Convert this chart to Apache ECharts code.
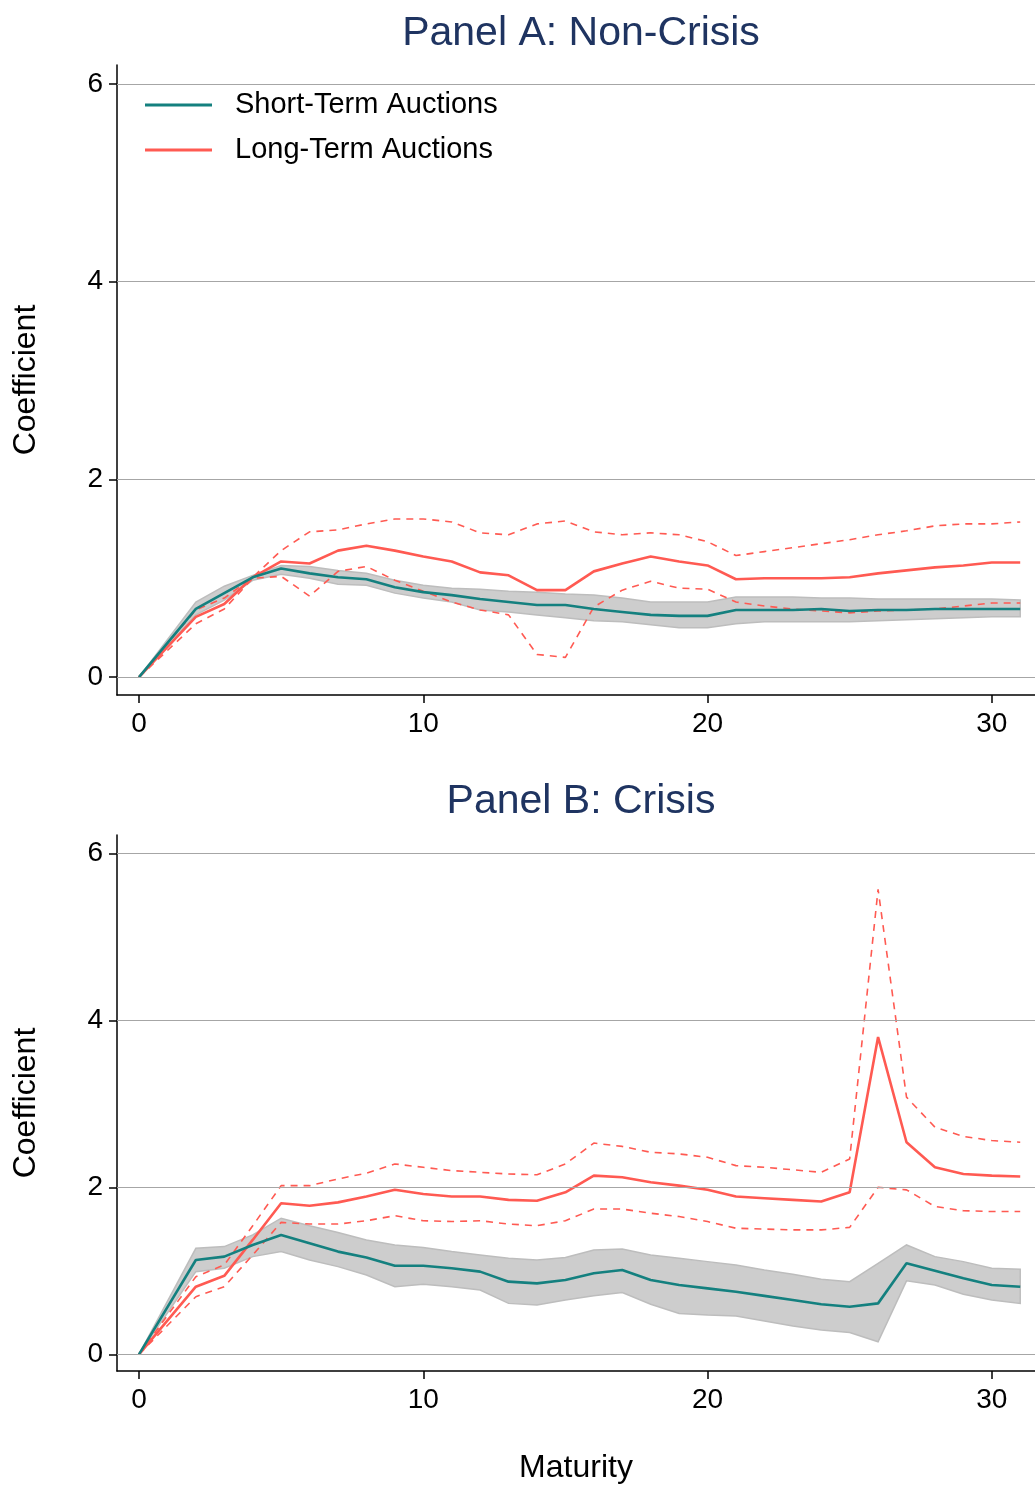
<!DOCTYPE html>
<html>
<head>
<meta charset="utf-8">
<script src="https://cdn.jsdelivr.net/npm/echarts@6/dist/echarts.min.js"></script>
<style>html,body{margin:0;padding:0;background:#fff}#c{width:1035px;height:1486px}</style>
</head>
<body>
<div id="c"></div>
<script>
// ---- data ----
const maturity = [0,2,3,4,5,6,7,8,9,10,11,12,13,14,15,16,17,18,19,20,21,22,23,24,25,26,27,28,29,30,31];
const xTicks = [0,10,20,30];
const yTicks = [0,2,4,6];

// Panel A: Non-Crisis
const A_short    = [0,0.69,0.85,1.01,1.10,1.05,1.01,0.99,0.91,0.86,0.83,0.79,0.76,0.73,0.73,0.69,0.66,0.63,0.62,0.62,0.68,0.68,0.68,0.69,0.67,0.68,0.68,0.69,0.69,0.69,0.69];
const A_short_hi = [0,0.76,0.92,1.03,1.13,1.12,1.08,1.05,0.98,0.93,0.90,0.89,0.87,0.86,0.84,0.83,0.80,0.76,0.76,0.76,0.81,0.81,0.81,0.80,0.80,0.79,0.79,0.79,0.79,0.79,0.78];
const A_short_lo = [0,0.63,0.78,0.98,1.04,1.00,0.94,0.93,0.85,0.80,0.76,0.68,0.66,0.63,0.60,0.57,0.56,0.53,0.50,0.50,0.54,0.56,0.56,0.56,0.56,0.57,0.58,0.59,0.60,0.61,0.61];
const A_long     = [0,0.61,0.74,1.01,1.17,1.15,1.28,1.33,1.28,1.22,1.17,1.06,1.03,0.88,0.88,1.07,1.15,1.22,1.17,1.13,0.99,1.00,1.00,1.00,1.01,1.05,1.08,1.11,1.13,1.16,1.16];
const A_long_hi  = [0,0.68,0.80,1.01,1.28,1.47,1.49,1.55,1.60,1.60,1.57,1.46,1.44,1.55,1.58,1.47,1.44,1.46,1.44,1.37,1.23,1.27,1.31,1.35,1.39,1.44,1.48,1.53,1.55,1.55,1.57];
const A_long_lo  = [0,0.54,0.69,1.00,1.02,0.82,1.07,1.12,0.98,0.87,0.76,0.68,0.63,0.23,0.20,0.71,0.88,0.97,0.90,0.89,0.76,0.72,0.69,0.67,0.65,0.67,0.68,0.69,0.72,0.75,0.75];

// Panel B: Crisis
const B_short    = [0,1.13,1.17,1.31,1.43,1.33,1.23,1.16,1.06,1.06,1.03,0.99,0.87,0.85,0.89,0.97,1.01,0.89,0.83,0.79,0.75,0.70,0.65,0.60,0.57,0.61,1.09,1.00,0.91,0.83,0.81];
const B_short_hi = [0,1.27,1.29,1.43,1.63,1.54,1.46,1.37,1.31,1.28,1.23,1.19,1.15,1.13,1.16,1.25,1.26,1.19,1.15,1.11,1.07,1.01,0.96,0.90,0.87,1.09,1.31,1.17,1.11,1.03,1.02];
const B_short_lo = [0,0.99,1.03,1.17,1.23,1.13,1.05,0.95,0.81,0.84,0.81,0.77,0.61,0.59,0.65,0.70,0.74,0.60,0.49,0.47,0.46,0.40,0.34,0.29,0.26,0.15,0.88,0.83,0.72,0.65,0.61];
const B_long     = [0,0.81,0.94,1.37,1.81,1.78,1.82,1.89,1.97,1.92,1.89,1.89,1.85,1.84,1.94,2.14,2.12,2.06,2.02,1.97,1.89,1.87,1.85,1.83,1.94,3.80,2.54,2.24,2.16,2.14,2.13];
const B_long_hi  = [0,0.93,1.07,1.54,2.02,2.02,2.10,2.17,2.28,2.24,2.20,2.18,2.16,2.15,2.28,2.53,2.49,2.42,2.40,2.36,2.26,2.24,2.21,2.18,2.34,5.57,3.08,2.72,2.61,2.56,2.54];
const B_long_lo  = [0,0.69,0.81,1.19,1.58,1.56,1.56,1.60,1.66,1.60,1.59,1.60,1.56,1.54,1.60,1.74,1.74,1.69,1.65,1.59,1.51,1.50,1.49,1.49,1.52,2.00,1.97,1.77,1.72,1.71,1.71];

// ---- styling ----
const TEAL = '#14807f';
const RED = '#ff5a52';
const FONT = '"Liberation Sans", Arial, Helvetica, sans-serif';

const pairs = arr => maturity.map((m, i) => [m, arr[i]]);

function band(gi, hi, lo) {
  return {
    type: 'custom', xAxisIndex: gi, yAxisIndex: gi, silent: true, z: 1,
    data: maturity.map((m, i) => [m, lo[i], hi[i]]),
    encode: { x: 0, y: [1, 2] },
    renderItem: function (params, api) {
      if (params.dataIndex !== 0) return null;
      const top = [], bot = [];
      for (let i = 0; i < maturity.length; i++) {
        top.push(api.coord([maturity[i], hi[i]]));
        bot.push(api.coord([maturity[i], lo[i]]));
      }
      return { type: 'polygon', shape: { points: top.concat(bot.reverse()) },
               style: { fill: '#cdcdcd', stroke: '#bdbdbd', lineWidth: 1.5 } };
    }
  };
}
function line(gi, name, arr, color, width, dashed, z) {
  return {
    type: 'line', name: name, xAxisIndex: gi, yAxisIndex: gi, data: pairs(arr),
    symbol: 'none', silent: true, z: z || 3,
    lineStyle: { color: color, width: width, type: dashed ? [7, 6] : 'solid' },
    itemStyle: { color: color }
  };
}
function gridLines(gi) {
  return {
    type: 'line', xAxisIndex: gi, yAxisIndex: gi, data: [], silent: true, z: 0,
    markLine: {
      silent: true, symbol: ['none', 'none'], label: { show: false },
      lineStyle: { color: '#a6a6a6', width: 1.2, type: 'solid' },
      data: yTicks.map(v => ({ yAxis: v }))
    }
  };
}
function xAxisCfg(gi, withName) {
  return {
    type: 'value', gridIndex: gi, min: -0.774, max: 31.52,
    axisLine: { show: true, onZero: false, lineStyle: { color: '#000', width: 1.5 } },
    axisTick: { show: true, length: 8, customValues: xTicks, lineStyle: { color: '#000', width: 1.5 } },
    axisLabel: { customValues: xTicks, fontSize: 28, color: '#000', fontFamily: FONT, margin: 15 },
    splitLine: { show: false },
    name: withName ? 'Maturity' : '', nameLocation: 'middle', nameGap: 81,
    nameTextStyle: { fontSize: 32, color: '#000', fontFamily: FONT }
  };
}
function yAxisCfg(gi, min, max) {
  return {
    type: 'value', gridIndex: gi, min: min, max: max,
    axisLine: { show: true, onZero: false, lineStyle: { color: '#000', width: 1.5 } },
    axisTick: { show: true, length: 8, customValues: yTicks, lineStyle: { color: '#000', width: 1.5 } },
    axisLabel: { customValues: yTicks, fontSize: 28, color: '#000', fontFamily: FONT, margin: 14 },
    splitLine: { show: false },
    name: 'Coefficient', nameLocation: 'middle', nameRotate: 90, nameGap: 75,
    nameTextStyle: { fontSize: 32, color: '#000', fontFamily: FONT }
  };
}

const chart = echarts.init(document.getElementById('c'), null, { renderer: 'canvas' });
chart.setOption({
  backgroundColor: '#fff',
  animation: false,
  title: [
    { text: 'Panel A: Non-Crisis', left: 576, top: 8, textAlign: 'center',
      textStyle: { fontSize: 41, fontWeight: 'normal', color: '#1f3461', fontFamily: FONT } },
    { text: 'Panel B: Crisis', left: 576, top: 776, textAlign: 'center',
      textStyle: { fontSize: 41, fontWeight: 'normal', color: '#1f3461', fontFamily: FONT } }
  ],
  legend: {
    data: ['Short-Term Auctions', 'Long-Term Auctions'],
    orient: 'vertical', left: 130, top: 66,
    backgroundColor: '#fff', padding: [23, 30, 14, 15],
    icon: 'rect', itemWidth: 67, itemHeight: 3, itemGap: 13,
    textStyle: { fontSize: 29, color: '#000', fontFamily: FONT, padding: [0, 0, 0, 18], lineHeight: 32 },
    selectedMode: false
  },
  grid: [
    { left: 117, right: 0, top: 65, height: 630 },
    { left: 117, right: 0, top: 835, height: 536 }
  ],
  xAxis: [xAxisCfg(0, false), xAxisCfg(1, true)],
  yAxis: [yAxisCfg(0, -0.18, 6.19), yAxisCfg(1, -0.20, 6.22)],
  series: [
    gridLines(0), gridLines(1),
    band(0, A_short_hi, A_short_lo),
    band(1, B_short_hi, B_short_lo),
    line(0, 'A long hi', A_long_hi, RED, 1.6, true),
    line(0, 'A long lo', A_long_lo, RED, 1.6, true),
    line(0, 'Long-Term Auctions', A_long, RED, 2.6, false),
    line(0, 'Short-Term Auctions', A_short, TEAL, 2.6, false, 4),
    line(1, 'B long hi', B_long_hi, RED, 1.6, true),
    line(1, 'B long lo', B_long_lo, RED, 1.6, true),
    line(1, 'Long-Term Auctions', B_long, RED, 2.6, false),
    line(1, 'Short-Term Auctions', B_short, TEAL, 2.6, false, 4)
  ]
});
</script>
</body>
</html>
